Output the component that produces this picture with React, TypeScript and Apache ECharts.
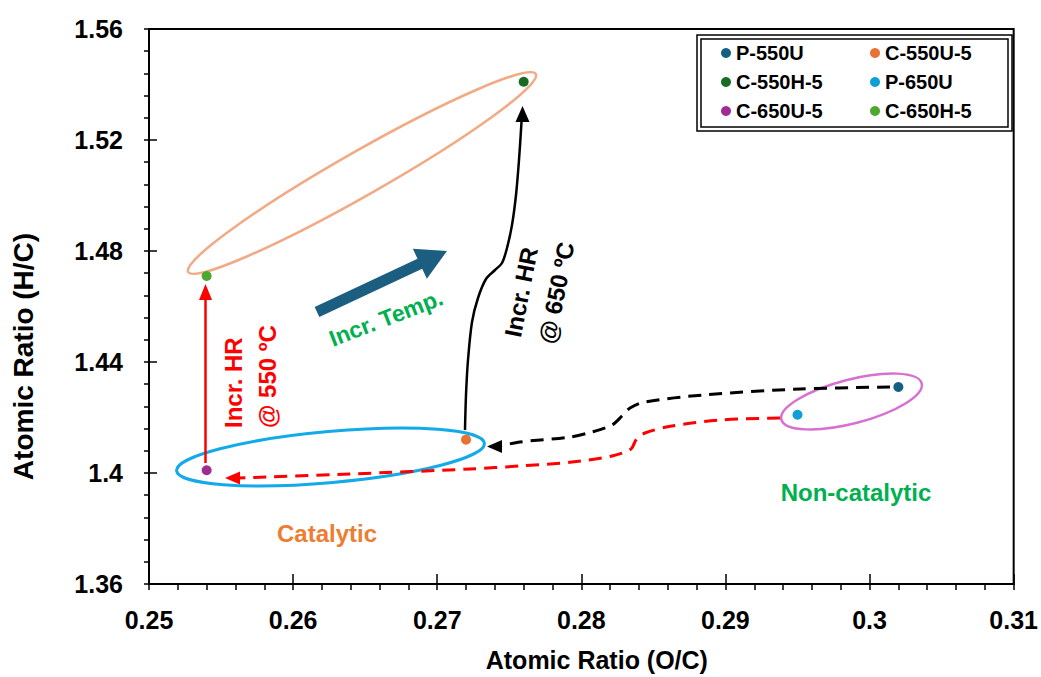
import React, { useEffect, useRef } from 'react';
import * as echarts from 'echarts';

// ---- data ----
const sampleNames = ['P-550U', 'C-550U-5', 'C-550H-5', 'P-650U', 'C-650U-5', 'C-650H-5'];
const ocRatio = [0.302, 0.272, 0.276, 0.295, 0.254, 0.254];
const hcRatio = [1.431, 1.412, 1.541, 1.421, 1.401, 1.471];
const sampleColors = ['#156082', '#E97132', '#196B24', '#0F9ED5', '#A02B93', '#4EA72E'];

const legendCol1 = ['P-550U', 'C-550H-5', 'C-650U-5'];
const legendCol2 = ['C-550U-5', 'P-650U', 'C-650H-5'];

const xMin = 0.25, xMax = 0.31, xStep = 0.01;
const yMin = 1.36, yMax = 1.56, yStep = 0.04;

const xTitle = 'Atomic Ratio (O/C)';
const yTitle = 'Atomic Ratio (H/C)';

const FONT = '"Liberation Sans", Arial, Helvetica, sans-serif';

function blockArrow(tail: number[], tip: number[], shaftHalf: number, headHalf: number, headLen: number) {
  const dx = tip[0] - tail[0], dy = tip[1] - tail[1];
  const len = Math.sqrt(dx * dx + dy * dy);
  const ux = dx / len, uy = dy / len;
  const nx = -uy, ny = ux;
  const bx = tip[0] - ux * headLen, by = tip[1] - uy * headLen;
  return [
    [tail[0] + nx * shaftHalf, tail[1] + ny * shaftHalf],
    [bx + nx * shaftHalf, by + ny * shaftHalf],
    [bx + nx * headHalf, by + ny * headHalf],
    [tip[0], tip[1]],
    [bx - nx * headHalf, by - ny * headHalf],
    [bx - nx * shaftHalf, by - ny * shaftHalf],
    [tail[0] - nx * shaftHalf, tail[1] - ny * shaftHalf],
  ];
}

export default function App() {
  const ref = useRef<HTMLDivElement>(null);
  useEffect(() => {
    if (!ref.current) return;
    const chart = echarts.init(ref.current, undefined, { renderer: 'svg' });
    const fmt = (v: number) => String(+v.toFixed(2));
    const tickStyle = { color: '#000', width: 1.5 };

    const legendBase = {
      orient: 'vertical',
      top: 43,
      itemWidth: 10,
      itemHeight: 10,
      itemGap: 9,
      icon: 'circle',
      padding: 0,
      selectedMode: false,
      itemStyle: { opacity: 1 },
      textStyle: { color: '#000', fontSize: 20, fontWeight: 'bold', fontFamily: FONT, lineHeight: 20 },
    };

    const option: any = {
      animation: false,
      grid: {
        left: 149, right: 26, top: 29, bottom: 91,
        show: true, borderColor: '#000', borderWidth: 2, backgroundColor: 'transparent',
      },
      xAxis: [
        {
          type: 'value', min: xMin, max: xMax, interval: xStep, position: 'bottom',
          axisLine: { show: true, onZero: false, lineStyle: { color: '#000', width: 2 } },
          axisTick: { show: true, inside: false, length: 6, lineStyle: tickStyle },
          minorTick: { show: true, splitNumber: 5, length: 6, lineStyle: tickStyle },
          splitLine: { show: false },
          axisLabel: { show: true, margin: 23, color: '#000', fontSize: 25, fontWeight: 'bold', fontFamily: FONT, formatter: fmt },
          name: xTitle, nameLocation: 'middle', nameGap: 63,
          nameTextStyle: { color: '#000', fontSize: 25, fontWeight: 'bold', fontFamily: FONT, padding: [0, 0, 0, 31] },
        },
        {
          type: 'value', min: xMin, max: xMax, interval: xStep, position: 'bottom',
          axisLine: { show: false }, axisLabel: { show: false }, splitLine: { show: false },
          axisTick: { show: true, inside: true, length: 10, lineStyle: tickStyle },
        },
      ],
      yAxis: [
        {
          type: 'value', min: yMin, max: yMax, interval: yStep, position: 'left',
          axisLine: { show: true, onZero: false, lineStyle: { color: '#000', width: 2 } },
          axisTick: { show: true, inside: false, length: 5, lineStyle: tickStyle },
          minorTick: { show: true, splitNumber: 5, length: 5, lineStyle: tickStyle },
          splitLine: { show: false },
          axisLabel: { show: true, margin: 26, color: '#000', fontSize: 25, fontWeight: 'bold', fontFamily: FONT, formatter: fmt },
          name: yTitle, nameLocation: 'middle', nameRotate: 90, nameGap: 112,
          nameTextStyle: { color: '#000', fontSize: 28, fontWeight: 'bold', fontFamily: FONT, padding: [0, 100, 0, 0] },
        },
        {
          type: 'value', min: yMin, max: yMax, interval: yStep, position: 'left',
          axisLine: { show: false }, axisLabel: { show: false }, splitLine: { show: false },
          axisTick: { show: true, inside: true, length: 8, lineStyle: tickStyle },
        },
      ],
      legend: [
        { ...legendBase, left: 721, data: legendCol1 },
        { ...legendBase, left: 870, data: legendCol2 },
      ],
      series: sampleNames.map((name, i) => ({
        type: 'scatter',
        name,
        xAxisIndex: 0,
        yAxisIndex: 0,
        data: [[ocRatio[i], hcRatio[i]]],
        symbol: 'circle',
        symbolSize: 10,
        itemStyle: { color: sampleColors[i], opacity: 1 },
        z: 10,
      })),
      graphic: {
        elements: [
          // legend double frame
          { type: 'rect', z: 5, shape: { x: 697, y: 35, width: 315, height: 96 }, style: { fill: 'none', stroke: '#000', lineWidth: 1.5 } },
          { type: 'rect', z: 5, shape: { x: 701, y: 39, width: 307, height: 88 }, style: { fill: 'none', stroke: '#000', lineWidth: 1.5 } },
          // ellipses
          { type: 'ellipse', z: 1, x: 362, y: 173, rotation: 29.7 * Math.PI / 180, shape: { cx: 0, cy: 0, rx: 200, ry: 22 }, style: { fill: 'none', stroke: '#F2AA84', lineWidth: 2.5 } },
          { type: 'ellipse', z: 1, x: 330.5, y: 457, rotation: 5.1 * Math.PI / 180, shape: { cx: 0, cy: 0, rx: 154.5, ry: 25.5 }, style: { fill: 'none', stroke: '#12AAE8', lineWidth: 3 } },
          { type: 'ellipse', z: 1, x: 851.5, y: 401.5, rotation: 14.5 * Math.PI / 180, shape: { cx: 0, cy: 0, rx: 72.5, ry: 22 }, style: { fill: 'none', stroke: '#D671D1', lineWidth: 2.5 } },
          // red dashed path
          { type: 'polyline', z: 1, shape: { smooth: 0.3, points: [[780, 418], [720, 420], [672, 426], [645, 433], [636, 440], [631, 449], [612, 456], [572, 462], [520, 466], [470, 469], [350, 474], [238, 478]] }, style: { fill: 'none', stroke: '#FF0000', lineWidth: 3, lineDash: [13, 8] } },
          { type: 'polygon', z: 1, shape: { points: [[225, 478], [240, 471.5], [240, 484.5]] }, style: { fill: '#FF0000' } },
          // black dashed path
          { type: 'polyline', z: 1, shape: { smooth: 0.3, points: [[890, 387], [800, 389], [703, 395], [645, 402], [630, 408], [622, 416], [612, 425], [592, 432], [570, 437], [520, 442], [500, 446]] }, style: { fill: 'none', stroke: '#000', lineWidth: 3, lineDash: [13, 8] } },
          { type: 'polygon', z: 1, shape: { points: [[487, 446.5], [502, 440], [502, 453]] }, style: { fill: '#000' } },
          // red vertical arrow
          { type: 'line', z: 1, shape: { x1: 205.5, y1: 463, x2: 205.5, y2: 298 }, style: { stroke: '#FF0000', lineWidth: 2.5 } },
          { type: 'polygon', z: 1, shape: { points: [[205.5, 284], [199, 300], [212, 300]] }, style: { fill: '#FF0000' } },
          // black solid curved arrow
          { type: 'polyline', z: 1, shape: { smooth: 0.3, points: [[465, 430], [466, 395], [468, 360], [472, 322], [478, 298], [486, 279], [495, 270], [502, 263], [507, 248], [512, 225], [516, 195], [519, 160], [521.5, 122]] }, style: { fill: 'none', stroke: '#000', lineWidth: 2.5 } },
          { type: 'polygon', z: 1, shape: { points: [[522.5, 106], [515.5, 122], [529.5, 122]] }, style: { fill: '#000' } },
          // temperature arrow
          { type: 'polygon', z: 1, shape: { points: blockArrow([317, 312], [447, 251], 5.5, 16.5, 30) }, style: { fill: '#1B5E80' } },
          // texts
          { type: 'text', z: 6, x: 386, y: 318, rotation: 21 * Math.PI / 180, style: { text: 'Incr. Temp.', fill: '#00B050', fontSize: 23, fontWeight: 'bold', fontFamily: FONT, align: 'center', verticalAlign: 'middle' } },
          { type: 'text', z: 6, x: 250, y: 428, rotation: Math.PI / 2, style: { text: 'Incr. HR\n@ 550 ºC', fill: '#FF0000', fontSize: 24, fontWeight: 'bold', fontFamily: FONT, align: 'left', verticalAlign: 'middle', lineHeight: 34 } },
          { type: 'text', z: 6, x: 529.5, y: 340, rotation: 79 * Math.PI / 180, style: { text: 'Incr. HR\n@ 650 ºC', fill: '#000', fontSize: 24, fontWeight: 'bold', fontFamily: FONT, align: 'left', verticalAlign: 'middle', lineHeight: 35 } },
          { type: 'text', z: 6, x: 327, y: 533, style: { text: 'Catalytic', fill: '#ED7D31', fontSize: 24, fontWeight: 'bold', fontFamily: FONT, align: 'center', verticalAlign: 'middle' } },
          { type: 'text', z: 6, x: 856, y: 492, style: { text: 'Non-catalytic', fill: '#00B050', fontSize: 24, fontWeight: 'bold', fontFamily: FONT, align: 'center', verticalAlign: 'middle' } },
        ],
      },
    };
    chart.setOption(option);
    return () => chart.dispose();
  }, []);
  return <div ref={ref} style={{ position: 'fixed', left: 0, top: 0, width: 1041, height: 677, background: '#fff' }} />;
}
